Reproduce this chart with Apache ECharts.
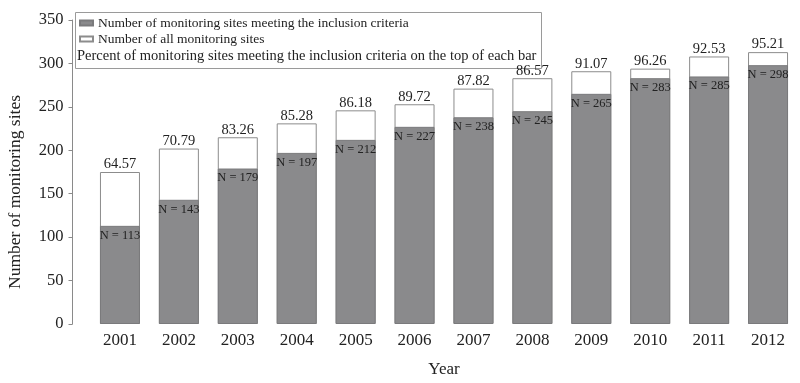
<!DOCTYPE html>
<html><head><meta charset="utf-8">
<script src="https://cdn.jsdelivr.net/npm/echarts@6/dist/echarts.min.js"></script>
<style>html,body{margin:0;padding:0;background:#fff}#c{width:800px;height:383px}</style>
</head><body><div id="c"></div>
<script>
const years = ['2001','2002','2003','2004','2005','2006','2007','2008','2009','2010','2011','2012'];
const metSites = [113,143,179,197,212,227,238,245,265,283,285,298];
const allSites = [175,202,215,231,246,253,271,283,291,294,308,313];
const percents = ['64.57','70.79','83.26','85.28','86.18','89.72','87.82','86.57','91.07','96.26','92.53','95.21'];
const yTicks = [0,50,100,150,200,250,300,350];

const FONT = 'Liberation Serif';
const chart = echarts.init(document.getElementById('c'), null, {renderer:'canvas'});
chart.setOption({
  animation:false,
  backgroundColor:'#fff',
  textStyle:{fontFamily:FONT,color:'#222'},
  grid:{left:90.5,right:2.5,top:20,bottom:59,containLabel:false},
  legend:{
    orient:'vertical',left:74,top:11,itemWidth:13,itemHeight:5,itemGap:2,
    icon:'rect',
    textStyle:{fontFamily:FONT,fontSize:13.5,color:'#222'},
    data:['Number of monitoring sites meeting the inclusion criteria','Number of all monitoring sites']
  },
  graphic:[
    {type:'rect',z:-1,shape:{x:75.5,y:12.5,width:466,height:56},style:{fill:'#fff',stroke:'#9a9a9a',lineWidth:1}},
    {type:'text',z:10,left:77,top:49,style:{text:'Percent of monitoring sites meeting the inclusion criteria on the top of each bar',font:'14.5px "Liberation Serif"',fill:'#222'}},
    {type:'text',z:10,x:6,y:192,rotation:Math.PI/2,style:{text:'Number of monitoring sites',font:'17.5px "Liberation Serif"',fill:'#222',align:'center',verticalAlign:'top'}}
  ],
  xAxis:{
    type:'category',data:years,
    axisLine:{show:false},axisTick:{show:false},
    axisLabel:{fontFamily:FONT,fontSize:17,color:'#222',margin:8},
    name:'Year',nameLocation:'middle',nameGap:37,
    nameTextStyle:{fontFamily:FONT,fontSize:17,color:'#222'}
  },
  yAxis:{
    type:'value',min:0,max:350,interval:50,offset:18,
    axisLine:{show:true,lineStyle:{color:'#8a8a8a',width:1}},
    axisTick:{show:true,length:4,lineStyle:{color:'#8a8a8a'}},
    splitLine:{show:false},
    axisLabel:{fontFamily:FONT,fontSize:16.5,color:'#222',margin:9,
      formatter:v=>yTicks.includes(v)?String(v):''}
  },
  series:[
    {
      name:'Number of all monitoring sites',type:'bar',data:allSites,barWidth:40,barGap:'-100%',z:2,
      itemStyle:{color:'#fff',borderColor:'#8c8c8c',borderWidth:1},
      label:{show:true,position:'top',distance:0,fontFamily:FONT,fontSize:14.5,color:'#222',
        formatter:p=>percents[p.dataIndex]}
    },
    {
      name:'Number of monitoring sites meeting the inclusion criteria',type:'bar',data:metSites,barWidth:40,z:3,
      itemStyle:{color:'#8a8a8c',borderColor:'#7a7a7c',borderWidth:1},
      label:{show:true,position:'insideTop',distance:3,fontFamily:FONT,fontSize:12.5,color:'#222',
        formatter:p=>'N = '+p.value}
    }
  ]
});
</script></body></html>
